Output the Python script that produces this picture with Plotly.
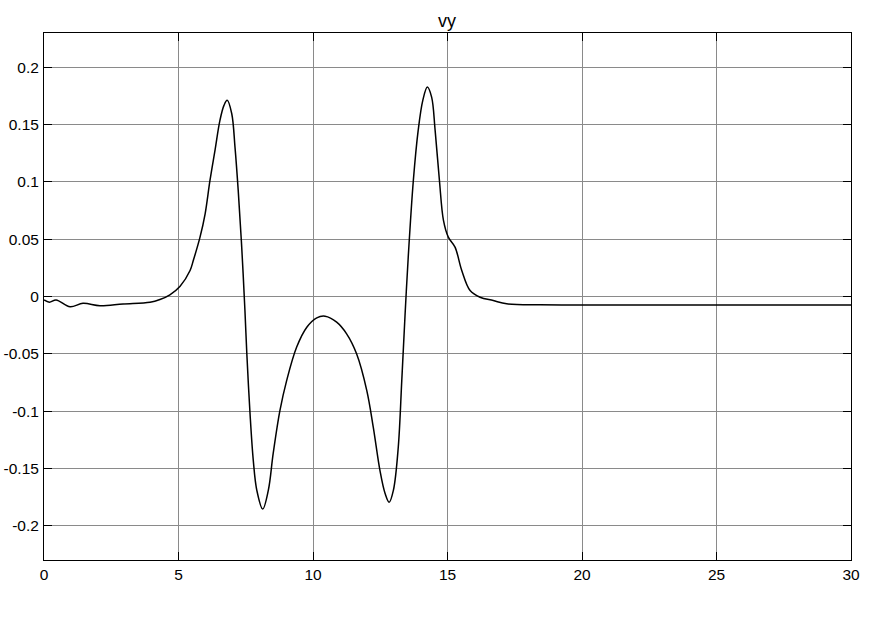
import plotly.graph_objects as go

t = [0, 0.2, 0.45, 0.97, 1.45, 2.08, 2.94, 3.94, 4.31, 4.68, 5.06, 5.43, 5.55, 5.80, 5.99,
     6.17, 6.36, 6.54, 6.69, 6.81, 6.98, 7.10, 7.22, 7.35, 7.47, 7.54, 7.66, 7.78, 7.91,
     8.13, 8.34, 8.52, 8.77, 9.02, 9.39, 9.77, 10.14, 10.45, 10.88, 11.25, 11.62, 12.0,
     12.24, 12.49, 12.68, 12.83, 12.99, 13.17, 13.30, 13.42, 13.54, 13.73, 13.91, 14.08,
     14.25, 14.41, 14.54, 14.70, 14.85, 15.03, 15.28, 15.53, 15.84, 16.21, 16.70, 17.20,
     18.44, 20, 25, 30]
vy = [-0.003, -0.005, -0.003, -0.009, -0.006, -0.008, -0.0065, -0.005, -0.0026, 0.0015,
      0.009, 0.0227, 0.0314, 0.0518, 0.0722, 0.1013, 0.128, 0.1537, 0.1668, 0.1712,
      0.1595, 0.1304, 0.0926, 0.0431, -0.0122, -0.050, -0.1025, -0.143, -0.169, -0.1855,
      -0.169, -0.137, -0.0996, -0.0734, -0.0443, -0.0268, -0.0186, -0.0172, -0.0224,
      -0.0326, -0.050, -0.0821, -0.114, -0.152, -0.172, -0.1796, -0.169, -0.1316, -0.0734,
      -0.017, 0.0343, 0.1013, 0.145, 0.171, 0.1828, 0.174, 0.145, 0.1013, 0.0664, 0.0518,
      0.0431, 0.0227, 0.0052, -0.0006, -0.0035, -0.0064, -0.0073, -0.0074, -0.0075, -0.0075]

x_ticks = [0, 5, 10, 15, 20, 25, 30]
x_ticktext = ["0", "5", "10", "15", "20", "25", "30"]
y_ticks = [0.2, 0.15, 0.1, 0.05, 0, -0.05, -0.1, -0.15, -0.2]
y_ticktext = ["0.2", "0.15", "0.1", "0.05", "0", "-0.05", "-0.1", "-0.15", "-0.2"]

fig = go.Figure()
fig.add_trace(go.Scatter(x=t, y=vy, mode="lines",
                         line=dict(color="black", width=1.5, shape="spline", smoothing=1.0),
                         showlegend=False))

font = dict(family="Liberation Sans, Arial, sans-serif", size=15.5, color="black")
axis_common = dict(showline=True, linecolor="black", linewidth=1, mirror="ticks",
                   ticks="inside", ticklen=8, tickcolor="black", tickwidth=1,
                   showgrid=True, gridcolor="#8a8a8a", gridwidth=1,
                   zeroline=False, tickfont=font, automargin=False)

fig.update_layout(
    width=875, height=619,
    margin=dict(l=44, r=24, t=33, b=59),
    paper_bgcolor="white", plot_bgcolor="white",
    title=dict(text="vy", x=447 / 875, xanchor="center", y=1 - 21 / 619,
               yanchor="middle", font=dict(family="Liberation Sans, Arial, sans-serif",
                                           size=18, color="black")),
    xaxis=dict(range=[0, 30], tickvals=x_ticks, ticktext=x_ticktext, **axis_common),
    yaxis=dict(range=[-0.23, 0.23], tickvals=y_ticks, ticktext=y_ticktext,
               ticklabelstandoff=1, **axis_common),
)

# remove the default 8px page margin so the figure starts at the window's corner
fig.write_html("out.html", config={"displayModeBar": False},
               post_script="document.body.style.margin='0px';")
